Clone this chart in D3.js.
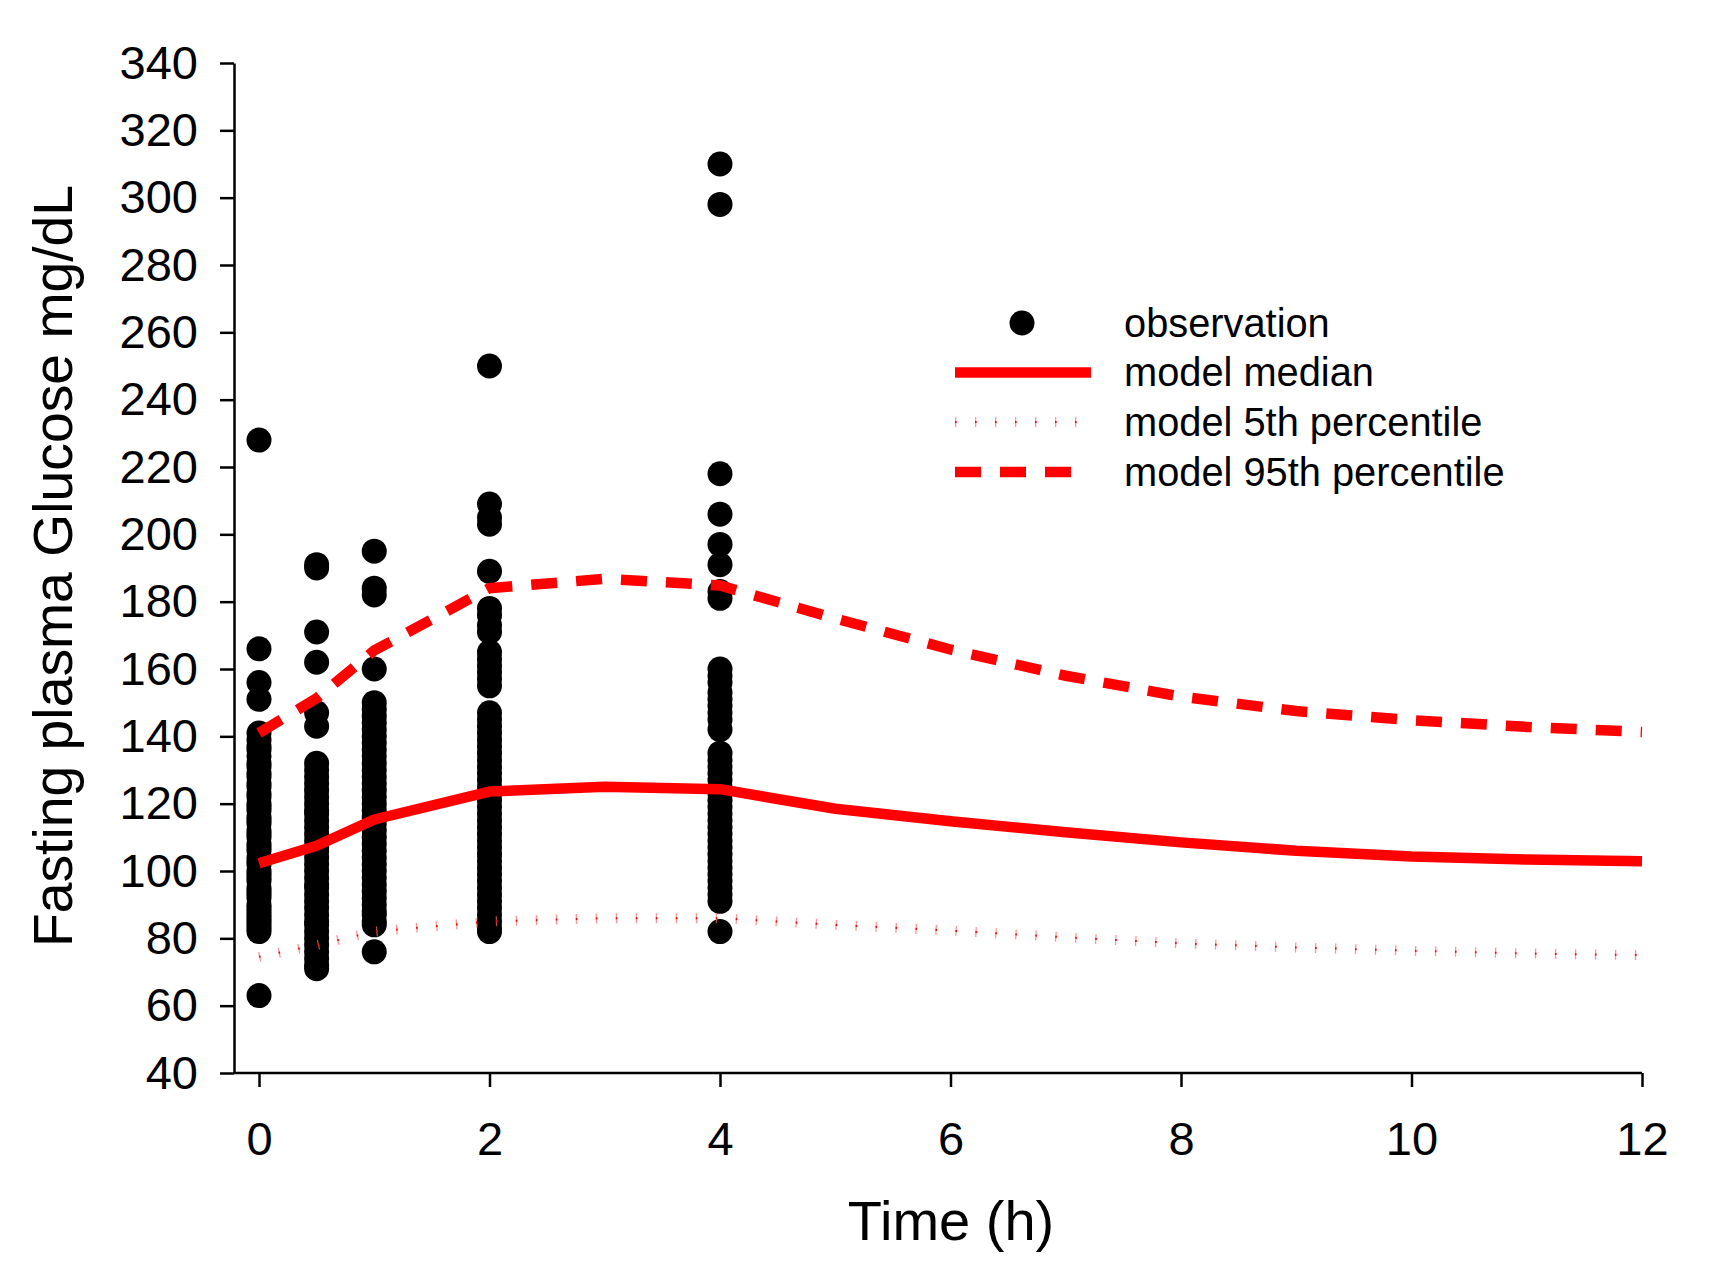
<!DOCTYPE html>
<html><head><meta charset="utf-8">
<script src="https://cdn.jsdelivr.net/npm/d3@7"></script>
<style>body{margin:0;background:#fff}svg{display:block}</style>
</head><body>
<svg id="chart" width="1733" height="1261"></svg>
<script>
// ---- data ----
const obsTimes = [0, 0.5, 1, 2, 4];
const obsT0 = [228, 166, 156, 151, 141, 139, 137, 136, 134, 132, 131, 129, 128, 126, 125, 123, 122, 120, 119, 118, 116, 115, 114, 112, 111, 110, 108, 107, 106, 104, 103, 102, 100, 99, 98, 97, 95, 94, 93, 92, 90, 89, 88, 87, 86, 85, 84, 83, 82, 63];
const obsT05 = [191, 190, 171, 162, 147, 143, 132, 130, 128, 126, 124, 122, 120, 118, 117, 115, 113, 111, 109, 107, 106, 104, 102, 100, 98, 96, 95, 93, 91, 89, 87, 85, 84, 82, 80, 78, 76, 74, 72, 71];
const obsT1 = [195, 184, 182, 160, 150, 148, 146, 144, 142, 140, 138, 136, 134, 132, 130, 128, 126, 124, 122, 120, 118, 116, 114, 112, 110, 108, 106, 104, 102, 100, 98, 96, 94, 92, 90, 88, 87, 85, 84, 76];
const obsT2 = [250, 209, 205, 203, 189, 178, 176, 173, 171, 165, 163, 161, 159, 157, 155, 147, 145, 143, 141, 139, 137, 135, 133, 131, 129, 127, 125, 123, 121, 119, 117, 115, 113, 111, 109, 107, 105, 103, 101, 99, 97, 95, 93, 91, 89, 87, 85, 83, 82];
const obsT4 = [310, 298, 218, 206, 197, 191, 183, 181, 160, 158, 156, 153, 151, 149, 147, 145, 142, 135, 133, 131, 129, 127, 125, 123, 121, 119, 117, 115, 113, 111, 109, 107, 105, 103, 101, 99, 97, 95, 93, 91, 82];

const modelTime = [0, 0.5, 1, 2, 3, 4, 5, 6, 7, 8, 9, 10, 11, 12];
const modelMedian = [102.3, 107.5, 115.3, 123.6, 125, 124.3, 118.5, 114.8, 111.5, 108.5, 106, 104.3, 103.4, 102.9];
const model5th = [74.5, 78, 82, 85, 86, 86, 84, 82.3, 80.3, 78.5, 77.3, 76.3, 75.5, 75];
const model95th = [141, 151.3, 165.5, 184, 186.8, 184.8, 175, 165.8, 158, 151.8, 147.5, 144.8, 142.8, 141.3];

const xTicks = [0, 2, 4, 6, 8, 10, 12];
const yTicks = [40, 60, 80, 100, 120, 140, 160, 180, 200, 220, 240, 260, 280, 300, 320, 340];
const xTitle = "Time (h)";
const yTitle = "Fasting plasma Glucose mg/dL";
const legendLabels = ["observation", "model median", "model 5th percentile", "model 95th percentile"];

// ---- drawing ----
const FONT = "'Liberation Sans', Arial, Helvetica, sans-serif";
const svg = d3.select("#chart");
const axisX = 234;
const x = d3.scaleLinear().domain([0, 12]).range([259, 1642]);
const y = d3.scaleLinear().domain([40, 340]).range([1073, 63]);

const obsSets = [obsT0, obsT05, obsT1, obsT2, obsT4];
const points = [];
obsSets.forEach((arr, i) => arr.forEach(v => points.push({t: obsTimes[i], v})));

// dots
svg.append("g").selectAll("circle").data(points).join("circle")
  .attr("cx", d => x(d.t)).attr("cy", d => y(d.v)).attr("r", 12.5).attr("fill", "#000");

const model = modelTime.map((t, i) => ({t, med: modelMedian[i], lo: model5th[i], hi: model95th[i]}));
const lineOf = key => d3.line().x(d => x(d.t)).y(d => y(d[key]));

// 5th percentile: faint tick-dotted line
function tickLine(sel) {
  sel.append("path").attr("fill", "none")
    .attr("stroke", "#ff6a6a").attr("stroke-opacity", 0.7).attr("stroke-width", 10)
    .attr("stroke-dasharray", "1.3 18.7");
  sel.append("path").attr("fill", "none")
    .attr("stroke", "#ff0000").attr("stroke-width", 2)
    .attr("stroke-dasharray", "1.6 18.4");
}
const g5 = svg.append("g");
tickLine(g5);
g5.selectAll("path").attr("d", lineOf("lo")(model));
// median
svg.append("path").datum(model).attr("d", lineOf("med")).attr("fill", "none")
  .attr("stroke", "#ff0000").attr("stroke-width", 10.5).attr("stroke-linejoin", "round");
// 95th dashed
svg.append("path").datum(model).attr("d", lineOf("hi")).attr("fill", "none")
  .attr("stroke", "#ff0000").attr("stroke-width", 10.5).attr("stroke-dasharray", "26 19");

// axes
const gy = svg.append("g").attr("transform", `translate(${axisX},0)`)
  .call(d3.axisLeft(y).tickValues(yTicks).tickSize(14).tickPadding(22).tickSizeOuter(0));
const gx = svg.append("g").attr("transform", `translate(0,${y(40)})`)
  .call(d3.axisBottom(x).tickValues(xTicks).tickSize(14).tickPadding(35).tickSizeOuter(0));
gx.select(".domain").attr("d", `M${axisX},0H${x(12)}`);
[gx, gy].forEach(g => {
  g.selectAll(".domain, .tick line").attr("stroke", "#000").attr("stroke-width", 2.5);
  g.selectAll("text").attr("fill", "#000").style("font-family", FONT).style("font-size", "47px");
});

// titles
svg.append("text").attr("x", 951).attr("y", 1240).attr("text-anchor", "middle")
  .style("font-family", FONT).style("font-size", "56px").text(xTitle);
svg.append("text").attr("transform", "translate(72,566) rotate(-90)").attr("text-anchor", "middle")
  .style("font-family", FONT).style("font-size", "55.3px").text(yTitle);

// legend
const legY = [323, 372.5, 422, 472];
const lx0 = 955, lx1 = 1091, ltx = 1124;
const lg = svg.append("g");
lg.append("circle").attr("cx", 1022).attr("cy", legY[0]).attr("r", 12.5).attr("fill", "#000");
lg.append("line").attr("x1", lx0).attr("x2", lx1).attr("y1", legY[1]).attr("y2", legY[1])
  .attr("stroke", "#ff0000").attr("stroke-width", 10.5);
const gl5 = lg.append("g");
tickLine(gl5);
gl5.selectAll("path").attr("d", `M${lx0},${legY[2]}H1077`);
lg.append("line").attr("x1", lx0).attr("x2", 1072).attr("y1", legY[3]).attr("y2", legY[3])
  .attr("stroke", "#ff0000").attr("stroke-width", 10.5).attr("stroke-dasharray", "26 19");
lg.selectAll("text.leg").data(legendLabels).join("text").attr("class", "leg")
  .attr("x", ltx).attr("y", (d, i) => legY[i]).attr("dy", "0.35em")
  .style("font-family", FONT).style("font-size", "39.8px").text(d => d);
</script>
</body></html>
